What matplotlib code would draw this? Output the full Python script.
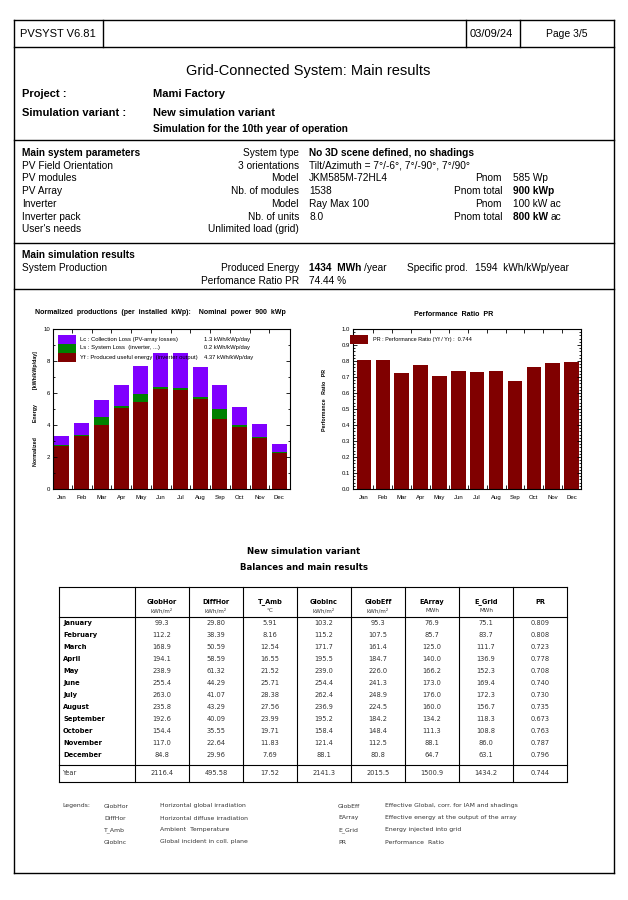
import numpy as np
import matplotlib
matplotlib.use("Agg")
import matplotlib.pyplot as plt
from matplotlib.ticker import MultipleLocator, FixedLocator, NullFormatter

months = ["Jan", "Feb", "Mar", "Apr", "May", "Jun", "Jul", "Aug", "Sep", "Oct", "Nov", "Dec"]
month_names = ["January", "February", "March", "April", "May", "June", "July",
               "August", "September", "October", "November", "December"]

# normalized productions [kWh/kWp/day]
yf = [2.69, 3.32, 4.00, 5.07, 5.46, 6.27, 6.18, 5.62, 4.38, 3.90, 3.19, 2.26]
ls = [0.07, 0.08, 0.48, 0.12, 0.50, 0.13, 0.13, 0.12, 0.59, 0.09, 0.08, 0.06]
lc = [0.57, 0.71, 1.06, 1.33, 1.75, 2.07, 2.16, 1.91, 1.54, 1.12, 0.78, 0.52]

pr = [0.809, 0.808, 0.723, 0.778, 0.708, 0.740, 0.730, 0.735, 0.673, 0.763, 0.787, 0.796]

glob_hor = [99.3, 112.2, 168.9, 194.1, 238.9, 255.4, 263.0, 235.8, 192.6, 154.4, 117.0, 84.8]
diff_hor = [29.80, 38.39, 50.59, 58.59, 61.32, 44.29, 41.07, 43.29, 40.09, 35.55, 22.64, 29.96]
t_amb = [5.91, 8.16, 12.54, 16.55, 21.52, 25.71, 28.38, 27.56, 23.99, 19.71, 11.83, 7.69]
glob_inc = [103.2, 115.2, 171.7, 195.5, 239.0, 254.4, 262.4, 236.9, 195.2, 158.4, 121.4, 88.1]
glob_eff = [95.3, 107.5, 161.4, 184.7, 226.0, 241.3, 248.9, 224.5, 184.2, 148.4, 112.5, 80.8]
e_array = [76.9, 85.7, 125.0, 140.0, 166.2, 173.0, 176.0, 160.0, 134.2, 111.3, 88.1, 64.7]
e_grid = [75.1, 83.7, 111.7, 136.9, 152.3, 169.4, 172.3, 156.7, 118.3, 108.8, 86.0, 63.1]
year_row = [2116.4, 495.58, 17.52, 2141.3, 2015.5, 1500.9, 1434.2, 0.744]

col_names = ["GlobHor", "DiffHor", "T_Amb", "GlobInc", "GlobEff", "EArray", "E_Grid", "PR"]
col_units = ["kWh/m²", "kWh/m²", "°C", "kWh/m²", "kWh/m²", "MWh", "MWh", ""]
col_dec = [1, 2, 2, 1, 1, 1, 1, 3]

legend_left = [("GlobHor", "Horizontal global irradiation"),
               ("DiffHor", "Horizontal diffuse irradiation"),
               ("T_Amb", "Ambient  Temperature"),
               ("GlobInc", "Global incident in coll. plane")]
legend_right = [("GlobEff", "Effective Global, corr. for IAM and shadings"),
                ("EArray", "Effective energy at the output of the array"),
                ("E_Grid", "Energy injected into grid"),
                ("PR", "Performance  Ratio")]

# label, key, value, key2, value2 (bold part), value2 (normal part)
params = [
    ("Main system parameters", "System type", "No 3D scene defined, no shadings", "", "", ""),
    ("PV Field Orientation", "3 orientations", "Tilt/Azimuth = 7°/-6°, 7°/-90°, 7°/90°", "", "", ""),
    ("PV modules", "Model", "JKM585M-72HL4", "Pnom", "", "585 Wp"),
    ("PV Array", "Nb. of modules", "1538", "Pnom total", "900 kWp", ""),
    ("Inverter", "Model", "Ray Max 100", "Pnom", "", "100 kW ac"),
    ("Inverter pack", "Nb. of units", "8.0", "Pnom total", "800 kW", "ac"),
    ("User's needs", "Unlimited load (grid)", "", "", "", ""),
]

W, H = 628, 900
fig = plt.figure(figsize=(W / 100, H / 100), dpi=100)
bg = fig.add_axes([0, 0, 1, 1])
bg.set_xlim(0, W)
bg.set_ylim(H, 0)
bg.axis("off")
bg.set_zorder(10)
renderer = fig.canvas.get_renderer()

ARIAL = "Liberation Sans"
VERD = "DejaVu Sans"


def t(x, y, s, size=7.3, weight="normal", ha="left", family=ARIAL, color="black"):
    return bg.text(x, y, s, fontsize=size, fontweight=weight, ha=ha, va="center",
                   family=family, color=color)


def t_bold_then(x, y, bold, normal, size=7.3):
    # bold part followed by a normal-weight part on the same line
    a = t(x, y, bold, size, "bold")
    x_end = bg.transData.inverted().transform(
        (a.get_window_extent(renderer).x1, 0))[0]
    t(x_end + 2.5, y, normal, size)


def hline(x0, x1, y, lw=1.0):
    bg.plot([x0, x1], [y, y], color="black", lw=lw)


def vline(x, y0, y1, lw=1.0):
    bg.plot([x, x], [y0, y1], color="black", lw=lw)


# ---- page frame ----
L, R, T, B = 14, 614, 20, 873
for y in (T, 47, 140, 243, 289, B):
    hline(L, R, y)
vline(L, T, B)
vline(R, T, B)
for x in (103, 466, 520):
    vline(x, T, 47)

t(20, 34, "PVSYST V6.81", 8)
t(470, 34, "03/09/24", 8)
t(567, 34, "Page 3/5", 7.5, ha="center")

t(308, 71, "Grid-Connected System: Main results", 10.5, ha="center")
t(22, 94, "Project :", 8, "bold")
t(153, 94, "Mami Factory", 8, "bold")
t(22, 113, "Simulation variant :", 8, "bold")
t(153, 113, "New simulation variant", 8, "bold")
t(153, 129, "Simulation for the 10th year of operation", 7.3, "bold")

# ---- system parameters ----
y0 = 153
for i, (lab, key, val, key2, vb, vn) in enumerate(params):
    y = y0 + i * 12.7
    t(22, y, lab, weight="bold" if i == 0 else "normal")
    t(299, y, key, ha="right")
    t(309, y, val, weight="bold" if i == 0 else "normal")
    if key2:
        t(502, y, key2, ha="right")
        if vb and vn:
            t_bold_then(513, y, vb, vn)
        elif vb:
            t(513, y, vb, weight="bold")
        else:
            t(513, y, vn)

t(22, 255, "Main simulation results", weight="bold")
t(22, 268, "System Production")
t(299, 268, "Produced Energy", ha="right")
t_bold_then(309, 268, "1434  MWh", "/year")
t(468, 268, "Specific prod.", ha="right")
t(475, 268, "1594  kWh/kWp/year")
t(299, 281, "Perfomance Ratio PR", ha="right")
t(309, 281, "74.44 %")


def px_axes(x0, x1, y_top, y_bot):
    return fig.add_axes([x0 / W, 1 - y_bot / H, (x1 - x0) / W, (y_bot - y_top) / H])


def style_axes(ax):
    ax.tick_params(which="both", direction="in", top=True, right=True, labelsize=4.3,
                   pad=2, width=0.6)
    ax.tick_params(which="major", length=3)
    ax.tick_params(which="minor", length=1.5)
    for sp in ax.spines.values():
        sp.set_linewidth(0.8)
    n = len(months)
    ax.xaxis.set_major_locator(FixedLocator(np.arange(n - 1) + 0.5))
    ax.xaxis.set_major_formatter(NullFormatter())
    ax.xaxis.set_minor_locator(FixedLocator(np.arange(n)))
    ax.set_xticklabels(months, minor=True)
    ax.tick_params(axis="x", which="minor", length=0, labelsize=4.3, pad=4)
    for lab in ax.get_xticklabels(minor=True) + ax.get_yticklabels():
        lab.set_family(ARIAL)


PURPLE, GREEN, DRED = "#8000ff", "#008000", "#800000"
x = np.arange(len(months))

# ---- normalized productions chart ----
ax1 = px_axes(53, 290, 329, 489)
yf_a, ls_a, lc_a = np.array(yf), np.array(ls), np.array(lc)
ax1.bar(x, yf_a, 0.76, color=DRED, lw=0)
ax1.bar(x, ls_a, 0.76, bottom=yf_a, color=GREEN, lw=0)
ax1.bar(x, lc_a, 0.76, bottom=yf_a + ls_a, color=PURPLE, lw=0)
ax1.set_xlim(-0.45, 11.55)
ax1.set_ylim(0, 10)
ax1.yaxis.set_major_locator(MultipleLocator(2))
ax1.yaxis.set_minor_locator(MultipleLocator(1))
style_axes(ax1)
t(160, 313, "Normalized  productions  (per  installed  kWp):    Nominal  power  900  kWp",
  5.0, "bold", ha="center")
bg.text(35, 409, "Normalized          Energy          [kWh/kWp/day]", fontsize=3.8,
        fontweight="bold", rotation=90, ha="center", va="center", family=ARIAL)

leg1 = [(PURPLE, "Lc : Collection Loss (PV-array losses)", "1.3 kWh/kWp/day"),
        (GREEN, "Ls : System Loss  (inverter, ...)", "0.2 kWh/kWp/day"),
        (DRED, "Yf : Produced useful energy  (inverter output)", "4.37 kWh/kWp/day")]
for i, (c, lab, val) in enumerate(leg1):
    yc = 339 + i * 9
    bg.add_patch(plt.Rectangle((58, yc - 4.5), 18, 9, color=c, lw=0))
    t(80, yc, lab, 4.2)
    t(204, yc, val, 4.2)

# ---- performance ratio chart ----
ax2 = px_axes(353, 581, 329, 489)
ax2.bar(x, pr, 0.77, color=DRED, lw=0)
ax2.set_xlim(-0.58, 11.5)
ax2.set_ylim(0, 1.0)
ax2.yaxis.set_major_locator(MultipleLocator(0.1))
ax2.yaxis.set_minor_locator(MultipleLocator(0.02))
ax2.yaxis.set_major_formatter(plt.FuncFormatter(lambda v, p: f"{v:.1f}"))
style_axes(ax2)
t(454, 314, "Performance  Ratio  PR", 5.1, "bold", ha="center")
bg.text(325, 400, "Performance   Ratio   PR", fontsize=3.8, fontweight="bold",
        rotation=90, ha="center", va="center", family=ARIAL)
bg.add_patch(plt.Rectangle((350, 334.5), 18, 9, color=DRED, lw=0))
t(373, 339, "PR : Performance Ratio (Yf / Yr) :  0.744", 4.0)

# ---- balances table ----
t(304, 551, "New simulation variant", 6.2, "bold", ha="center", family=VERD)
t(304, 568, "Balances and main results", 6.2, "bold", ha="center", family=VERD)

tx0, tx1 = 59, 567
col_x = [135 + i * 54 for i in range(9)]
for y in (587, 617, 765, 782):
    hline(tx0, tx1, y, 0.8)
vline(tx0, 587, 782, 0.8)
for cx in col_x:
    vline(cx, 587, 782, 0.8)

cols = [glob_hor, diff_hor, t_amb, glob_inc, glob_eff, e_array, e_grid, pr]
for j, name in enumerate(col_names):
    cx = col_x[j] + 27
    t(cx, 602, name, 4.8, "bold", ha="center", family=VERD)
    t(cx, 611, col_units[j], 4.1, ha="center", family=VERD, color="#333333")
for i, m in enumerate(month_names):
    y = 623 + i * 12
    t(63, y, m, 4.9, "bold", family=VERD)
    for j, col in enumerate(cols):
        t(col_x[j] + 27, y, f"{col[i]:.{col_dec[j]}f}", 4.8, ha="center",
          family=VERD, color="#333333")
t(63, 773, "Year", 4.8, family=VERD, color="#333333")
for j, v in enumerate(year_row):
    t(col_x[j] + 27, 773, f"{v:.{col_dec[j]}f}", 4.8, ha="center", family=VERD,
      color="#333333")

# ---- legends ----
t(62, 806, "Legends:", 4.4, family=VERD, color="#333333")
for i, ((a, da), (b, db)) in enumerate(zip(legend_left, legend_right)):
    y = 806 + i * 12
    t(104, y, a, 4.4, family=VERD, color="#333333")
    t(160, y, da, 4.4, family=VERD, color="#333333")
    t(338, y, b, 4.4, family=VERD, color="#333333")
    t(385, y, db, 4.4, family=VERD, color="#333333")

fig.savefig("out.png", dpi=100)
